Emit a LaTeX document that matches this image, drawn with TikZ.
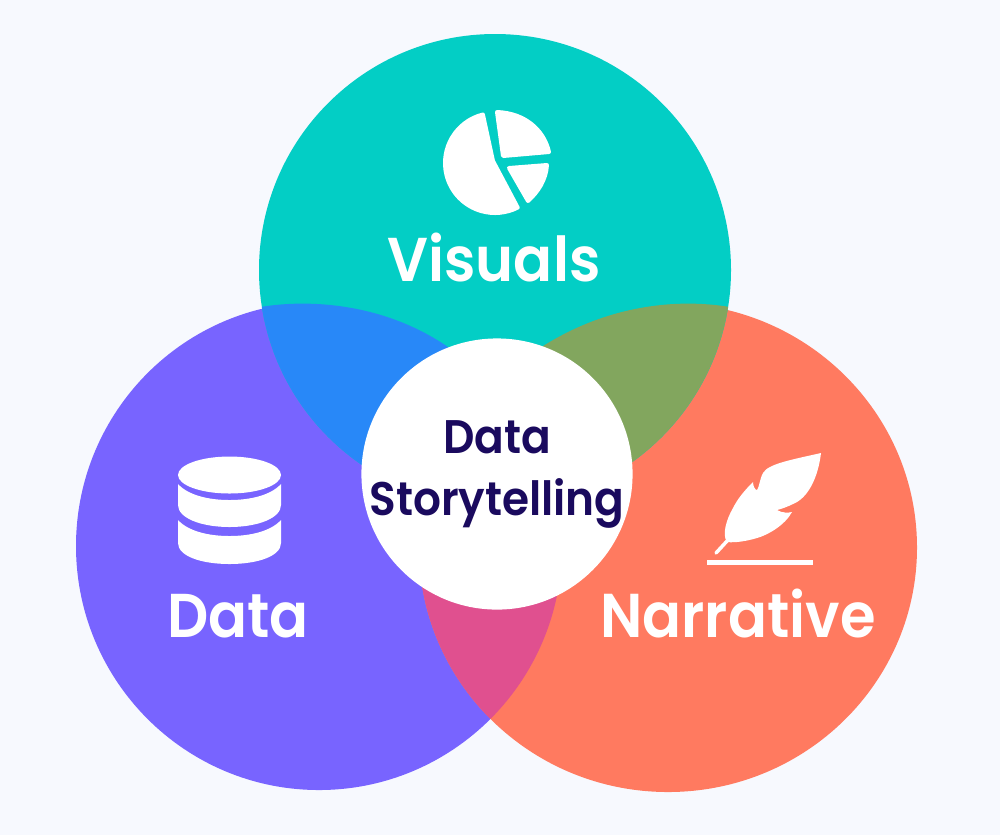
\documentclass[tikz,border=0pt]{standalone}
\usepackage{fontspec}
\setmainfont[FakeStretch=0.93]{Poppins SemiBold}
\definecolor{pagebg}{HTML}{F7F9FE}
\definecolor{tealc}{HTML}{03CEC5}
\definecolor{purplec}{HTML}{7864FF}
\definecolor{orangec}{HTML}{FF7A60}
\definecolor{bluec}{HTML}{2888F8}
\definecolor{olivec}{HTML}{82A65E}
\definecolor{pinkc}{HTML}{E0508F}
\definecolor{navyc}{HTML}{1A0A5E}
\tikzset{
    every node/.style={inner sep=0mm},
    title/.style={anchor=base, text=white, font=\fontsize{17.6pt}{20pt}\selectfont},
    centertitle/.style={anchor=base, text=navyc, font=\fontsize{13.4pt}{16pt}\selectfont},
    icon/.style={fill=white, draw=white, line join=round, line width=.4mm}
}
\begin{document}
\begin{tikzpicture}[x=0.01cm, y=-0.01cm]
        \useasboundingbox (0,0) rectangle (1000,835);
        \fill [pagebg] (0,0) rectangle (1000,835);
        \fill [purplec] (319,546) ellipse [x radius=243, y radius=244];
        \fill [orangec] (668,547.5) ellipse [x radius=249, y radius=244.5];
        \begin{scope}
                \clip (319,546) ellipse [x radius=243, y radius=244];
                \fill [pinkc] (668,547.5) ellipse [x radius=249, y radius=244.5];
        \end{scope}
        \fill [tealc] (495,270) circle [radius=236];
        \begin{scope}
                \clip (495,270) circle [radius=236];
                \fill [bluec] (250,309) .. controls (300,298) and (385,300) .. (455,352) -- (455,520) -- (250,520) -- cycle;
                \fill [olivec] (740,309) .. controls (690,298) and (610,300) .. (534,352) -- (534,520) -- (740,520) -- cycle;
        \end{scope}
        \node (mid) [circle, fill=white, minimum size=2.71cm] at (497,474) {};
        \filldraw [icon] (495,163) ++(256:50) arc [start angle=256, end angle=63, radius=50] -- (493,161) -- cycle;
        \filldraw [icon] (497,112) .. controls (525,113) and (544,130) .. (549,152) -- (503,156) -- cycle;
        \filldraw [icon] (509,168) -- (547,165) .. controls (546,180) and (538,192) .. (528,201) -- cycle;
        \fill [white] (229.5,475) ellipse [x radius=51.5, y radius=18.5];
        \fill [white] (178,484) .. controls (188,495) and (208,500) .. (229.5,500) .. controls (251,500) and (271,495) .. (281,484) -- (281,505) .. controls (281,518) and (258,527) .. (229.5,527) .. controls (201,527) and (178,518) .. (178,505) -- cycle;
        \fill [white] (178,520) .. controls (188,531) and (208,536) .. (229.5,536) .. controls (251,536) and (271,531) .. (281,520) -- (281,543) .. controls (281,556) and (258,564) .. (229.5,564) .. controls (201,564) and (178,556) .. (178,543) -- cycle;
        \fill [white] (821,453) .. controls (818,478) and (808,498) .. (793,504) .. controls (787,507) and (781,509) .. (777,510) .. controls (782,513) and (788,513) .. (792,512) .. controls (785,525) and (768,535) .. (757,538) .. controls (747,541) and (735,543) .. (727,542) .. controls (722,535) and (726,520) .. (733,508) .. controls (738,498) and (745,490) .. (753,482) .. controls (753,486) and (755,490) .. (757,490) .. controls (759,488) and (760,478) .. (763,473) .. controls (768,464) and (790,460) .. (821,453) -- cycle;
        \draw [white, line width=.35mm, line cap=round] (727,541) -- (716,553);
        \fill [white] (707,560) rectangle (813,565);
        \node (lvis) [title] at (494,281) {Visuals};
        \node (ldat) [title] at (238,637) {Data};
        \node (lnar) [title] at (738,637) {Narrative};
        \node (lmida) [centertitle] at (497,453) {Data};
        \node (lmidb) [centertitle] at (497,515) {Storytelling};
\end{tikzpicture}
\end{document}
